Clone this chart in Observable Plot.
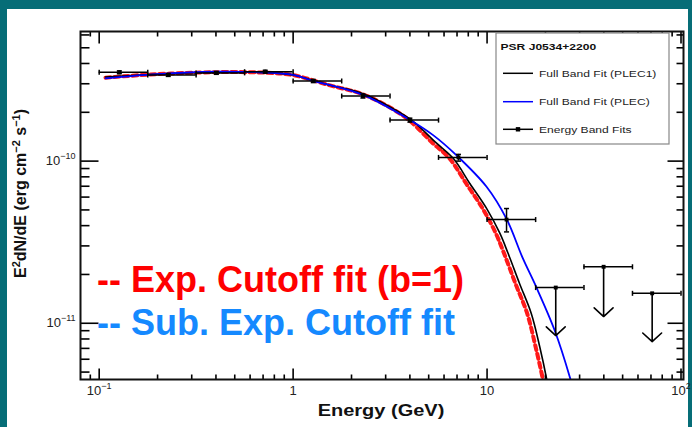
<!DOCTYPE html>
<html><head><meta charset="utf-8">
<script src="https://cdn.jsdelivr.net/npm/d3@7"></script>
<script src="https://cdn.jsdelivr.net/npm/@observablehq/plot@0.6"></script>
<style>
html,body{margin:0;padding:0;background:#066d77;width:692px;height:427px;overflow:hidden;}
#panel{position:absolute;left:7px;top:9px;width:681px;height:418px;background:#fff;}
#chart{position:absolute;left:0;top:0;}
</style></head><body>
<div id="panel"></div>
<div id="chart"></div>
<script>
// ---- energy band fits (GeV, erg cm^-2 s^-1)
const bandLo   = [0.1, 0.178, 0.316, 0.562, 1, 1.78, 3.16, 5.62, 10];
const bandHi   = [0.178, 0.316, 0.562, 1, 1.78, 3.16, 5.62, 10, 17.8];
const bandE    = [0.127, 0.227, 0.402, 0.718, 1.27, 2.29, 4.0, 7.12, 12.6];
const bandFlux = [3.53e-10, 3.40e-10, 3.50e-10, 3.56e-10, 3.12e-10, 2.52e-10, 1.79e-10, 1.054e-10, 4.36e-11];
const bandErrLo= [3.46e-10, 3.33e-10, 3.43e-10, 3.49e-10, 3.05e-10, 2.45e-10, 1.74e-10, 1.00e-10, 3.66e-11];
const bandErrHi= [3.60e-10, 3.47e-10, 3.57e-10, 3.63e-10, 3.19e-10, 2.59e-10, 1.84e-10, 1.10e-10, 5.10e-11];
// ---- upper limits
const ulLo  = [17.8, 31.6, 56.2];
const ulHi  = [31.6, 56.2, 100];
const ulE   = [22.6, 39.9, 71.0];
const ulFlux= [1.66e-11, 2.23e-11, 1.53e-11];
const ulTip = [8.4e-12, 1.10e-11, 7.7e-12];
// ---- full band fit PLEC1 (black)
const plec1E = [0.1078, 0.1837, 0.332, 0.503, 0.718, 1, 1.268, 1.55, 2.257, 3.16, 4.08, 5.49, 6.69, 8.15, 9.94, 11.65, 12.8, 14.7, 16.9, 18.7, 20.3, 20.9];
const plec1F = [3.30e-10, 3.42e-10, 3.52e-10, 3.54e-10, 3.52e-10, 3.40e-10, 3.14e-10, 2.94e-10, 2.62e-10, 2.16e-10, 1.79e-10, 1.29e-10, 1.04e-10, 7.28e-11, 5.11e-11, 3.58e-11, 2.72e-11, 1.76e-11, 1.15e-11, 7.14e-12, 4.51e-12, 3.70e-12];
// ---- full band fit PLEC (blue)
const plecE = [0.1078, 0.1996, 0.397, 0.701, 1, 1.268, 2.291, 4.14, 5.27, 6.94, 9.94, 12.6, 15.3, 17.9, 22.3, 26.7, 27.6];
const plecF = [3.24e-10, 3.44e-10, 3.56e-10, 3.52e-10, 3.40e-10, 3.13e-10, 2.56e-10, 1.75e-10, 1.447e-10, 1.089e-10, 6.95e-11, 4.40e-11, 2.51e-11, 1.68e-11, 9.06e-12, 4.66e-12, 4.0e-12];
// ---- red dashed exp. cutoff overlay
const expE = [0.1078, 0.1837, 0.332, 0.503, 0.718, 1, 1.55, 2.257, 3.16, 4.0, 5.25, 6.40, 7.80, 9.48, 11.1, 12.2, 14.0, 16.1, 17.8, 19.4, 20.0];
const expF = [3.27e-10, 3.42e-10, 3.52e-10, 3.54e-10, 3.51e-10, 3.39e-10, 2.93e-10, 2.60e-10, 2.14e-10, 1.77e-10, 1.29e-10, 1.04e-10, 7.28e-11, 5.11e-11, 3.58e-11, 2.72e-11, 1.76e-11, 1.15e-11, 7.14e-12, 4.51e-12, 3.70e-12];
// ---- ticks
const xDomain = [0.0801, 103];
const yDomain = [4.5e-12, 6.3e-10];
const xMajor = [0.1, 1, 10, 100];
const xLabels = ["10^-1", "1", "10", "10^2"];
const xMinor = [0.09, 0.2,0.3,0.4,0.5,0.6,0.7,0.8,0.9, 2,3,4,5,6,7,8,9, 20,30,40,50,60,70,80,90];
const yMajor = [1e-11, 1e-10];
const yLabels = ["10^-11", "10^-10"];
const yMinor = [5e-12,6e-12,7e-12,8e-12,9e-12, 2e-11,3e-11,4e-11,5e-11,6e-11,7e-11,8e-11,9e-11, 2e-10,3e-10,4e-10,5e-10,6e-10];

const FONT = "'Liberation Sans', Arial, Helvetica, sans-serif";
const xLab = new Map(xMajor.map((d,i)=>[d, xLabels[i]]));
const yLab = new Map(yMajor.map((d,i)=>[d, yLabels[i]]));

const bands = bandE.map((e,i)=>({e, f:bandFlux[i], lo:bandLo[i], hi:bandHi[i], elo:bandErrLo[i], ehi:bandErrHi[i]}));
const uls = ulE.map((e,i)=>({e, f:ulFlux[i], lo:ulLo[i], hi:ulHi[i], tip:ulTip[i]}));
const pts = (E,F)=>E.map((e,i)=>({e, f:F[i]}));

const vCap = {draw(ctx){ ctx.moveTo(0,-2.5); ctx.lineTo(0,2.5); }};
const hCap = {draw(ctx){ ctx.moveTo(-2.5,0); ctx.lineTo(2.5,0); }};
// inward tick symbols: direction (dx, dy), length L
const tickSym = (dx, dy, L) => ({draw(ctx){ ctx.moveTo(0,0); ctx.lineTo(dx*L, dy*L); }});
const xTicks = (ticks, yEdge, dir, L) => Plot.dot(ticks, {
  x: d => d, y: () => yEdge, symbol: tickSym(0, dir, L), r: 1,
  fill: "none", stroke: "#000", strokeWidth: 1.6
});
const yTicks = (ticks, xEdge, dir, L) => Plot.dot(ticks, {
  y: d => d, x: () => xEdge, symbol: tickSym(dir, 0, L), r: 1,
  fill: "none", stroke: "#000", strokeWidth: 1.6
});

const chart = Plot.plot({
  width: 692, height: 427,
  marginLeft: 80, marginRight: 9, marginTop: 31, marginBottom: 48,
  style: {background: "transparent", fontFamily: FONT, color: "#111", overflow: "visible"},
  x: {type: "log", domain: xDomain},
  y: {type: "log", domain: yDomain},
  marks: [
    // curves
    Plot.line(pts(expE, expF), {x:"e", y:"f", stroke:"#ff1a1a", strokeWidth:4, strokeDasharray:"5,4", curve:"catmull-rom", clip:true}),
    Plot.line(pts(plec1E, plec1F), {x:"e", y:"f", stroke:"#000", strokeWidth:1.6, curve:"catmull-rom", clip:true}),
    Plot.line(pts(plecE, plecF), {x:"e", y:"f", stroke:"#0000ff", strokeWidth:1.8, curve:"catmull-rom", clip:true}),
    // band fits
    Plot.ruleY(bands, {y:"f", x1:"lo", x2:"hi", stroke:"#000", strokeWidth:1.5}),
    Plot.dot(bands, {x:"lo", y:"f", symbol:vCap, r:2, fill:"none", stroke:"#000", strokeWidth:1.5}),
    Plot.dot(bands, {x:"hi", y:"f", symbol:vCap, r:2, fill:"none", stroke:"#000", strokeWidth:1.5}),
    Plot.ruleX(bands, {x:"e", y1:"elo", y2:"ehi", stroke:"#000", strokeWidth:1.5}),
    Plot.dot(bands, {x:"e", y:"elo", symbol:hCap, r:2, fill:"none", stroke:"#000", strokeWidth:1.5}),
    Plot.dot(bands, {x:"e", y:"ehi", symbol:hCap, r:2, fill:"none", stroke:"#000", strokeWidth:1.5}),
    Plot.dot(bands, {x:"e", y:"f", symbol:"square", r:2.2, fill:"#000", stroke:"none"}),
    // upper limits
    Plot.ruleY(uls, {y:"f", x1:"lo", x2:"hi", stroke:"#000", strokeWidth:1.5}),
    Plot.dot(uls, {x:"lo", y:"f", symbol:vCap, r:2, fill:"none", stroke:"#000", strokeWidth:1.5}),
    Plot.dot(uls, {x:"hi", y:"f", symbol:vCap, r:2, fill:"none", stroke:"#000", strokeWidth:1.5}),
    Plot.arrow(uls, {x1:"e", x2:"e", y1:"f", y2:"tip", stroke:"#000", strokeWidth:1.6, headLength:12, headAngle:95}),
    Plot.dot(uls, {x:"e", y:"f", symbol:"square", r:2.2, fill:"#000", stroke:"none"}),
    // inward ticks on all four sides
    xTicks(xMajor, yDomain[0], -1, 11),
    xTicks(xMinor, yDomain[0], -1, 5),
    xTicks(xMajor, yDomain[1], 1, 12),
    xTicks(xMinor, yDomain[1], 1, 5),
    yTicks(yMajor, xDomain[0], 1, 18),
    yTicks(yMinor, xDomain[0], 1, 9),
    yTicks(yMajor, xDomain[1], -1, 16),
    yTicks(yMinor, xDomain[1], -1, 7),
    // tick labels
    Plot.axisX({ticks:xMajor, anchor:"bottom", tickSize:0, tickPadding:6, stroke:"none", fill:"#222", fontSize:13, label:null, tickFormat:d=>xLab.get(d)}),
    Plot.axisY({ticks:yMajor, anchor:"left", tickSize:0, tickPadding:5, stroke:"none", fill:"#222", fontSize:13, label:null, tickFormat:d=>yLab.get(d)}),
    Plot.frame({stroke:"#111", strokeWidth:2})
  ]
});
document.getElementById("chart").append(chart);

// superscripts in tick labels
const svg = d3.select(chart.tagName.toLowerCase() === "svg" ? chart : chart.querySelector("svg"));
svg.selectAll("text").each(function(){
  const s = this.textContent;
  if (s.includes("^")) {
    const [base, exp] = s.split("^");
    const t = d3.select(this);
    t.text(null);
    t.append("tspan").text(base);
    t.append("tspan").attr("dy", -6).attr("font-size", 9).text(exp.replace("-", "\u2212"));
  }
});

// annotations
const g = svg.append("g").attr("font-family", FONT).attr("text-anchor", "start");
// axis titles
g.append("text").attr("transform", "translate(381,416) scale(1.25,1)")
  .attr("text-anchor", "middle").attr("font-weight", "bold").attr("font-size", 16).attr("fill", "#111")
  .text("Energy (GeV)");
const yt = g.append("text").attr("transform", "translate(25.5,278) rotate(-90)")
  .attr("text-anchor", "start").attr("font-weight", "bold").attr("font-size", 16).attr("fill", "#111");
yt.append("tspan").text("E");
yt.append("tspan").attr("dy", -6).attr("font-size", 11).text("2");
yt.append("tspan").attr("dy", 6).text("dN/dE (erg cm");
yt.append("tspan").attr("dy", -6).attr("font-size", 11).text("\u22122");
yt.append("tspan").attr("dy", 6).text(" s");
yt.append("tspan").attr("dy", -6).attr("font-size", 11).text("\u22121");
yt.append("tspan").attr("dy", 6).text(")");

// legend
g.append("rect").attr("x", 496).attr("y", 33).attr("width", 173).attr("height", 111)
  .attr("fill", "#fff").attr("stroke", "#888").attr("stroke-width", 1.2);
g.append("text").attr("transform", "translate(500.5,49.5) scale(1.3,1)")
  .attr("font-weight", "bold").attr("font-size", 9.3).attr("fill", "#111").text("PSR J0534+2200");
const legRows = [
  {y:73.3, color:"#000", label:"Full Band Fit (PLEC1)", marker:false},
  {y:101.7, color:"#0000ff", label:"Full Band Fit (PLEC)", marker:false},
  {y:129.3, color:"#000", label:"Energy Band Fits", marker:true}
];
legRows.forEach(r=>{
  g.append("line").attr("x1", 503).attr("x2", 533).attr("y1", r.y).attr("y2", r.y)
    .attr("stroke", r.color).attr("stroke-width", 1.5);
  if (r.marker) g.append("rect").attr("x", 515.8).attr("y", r.y-2.2).attr("width", 4.4).attr("height", 4.4).attr("fill", "#000");
  g.append("text").attr("transform", `translate(539,${r.y+3.4}) scale(1.3,1)`)
    .attr("font-size", 9.3).attr("fill", "#222").text(r.label);
});

// big overlay captions
g.append("text").attr("x", 97).attr("y", 291.7).attr("font-weight", "bold").attr("font-size", 36)
  .attr("fill", "#ff0000").text("-- Exp. Cutoff fit (b=1)");
g.append("text").attr("x", 97).attr("y", 335).attr("font-weight", "bold").attr("font-size", 36)
  .attr("fill", "#1589ff").text("-- Sub. Exp. Cutoff fit");
</script>
</body></html>
